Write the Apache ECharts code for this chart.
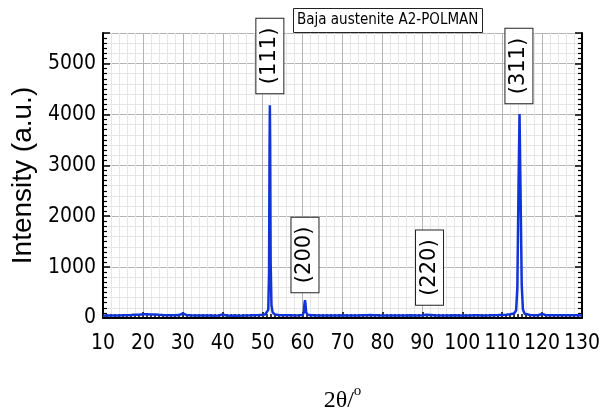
<!DOCTYPE html>
<html>
<head>
<meta charset="utf-8">
<script src="https://cdn.jsdelivr.net/npm/echarts@6/dist/echarts.min.js"></script>
<style>
html, body { margin: 0; padding: 0; background: #fff; }
#chart { width: 608px; height: 412px; }
</style>
</head>
<body>
<div id="chart"></div>
<script>
// XRD pattern, Baja austenite A2-POLMAN
var twoTheta = [10, 11, 12, 13, 14, 15, 16, 17, 18, 19, 20, 21, 22, 23, 24, 25, 26, 27, 28, 29,
	30, 31, 32, 33, 34, 35, 36, 37, 38, 39, 40, 41, 42, 43, 44, 45, 46, 47, 48, 49, 50,
	50.6, 51, 51.4, 51.6, 51.72, 51.8, 51.88, 52.0, 52.2, 52.5, 53, 54, 55, 56, 57, 58, 59, 60,
	60.3, 60.45, 60.6, 60.72, 60.9, 61.3, 62, 63, 64, 65, 66, 67, 68, 69, 70, 71, 72, 73, 74, 75,
	76, 77, 78, 79, 80, 81, 82, 83, 84, 85, 86, 87, 88, 89, 90, 91, 91.5, 92, 93, 94, 95, 96, 97,
	98, 99, 100, 101, 102, 103, 104, 105, 106, 107, 108, 109, 110, 111, 112, 113, 113.5, 113.8,
	114.1, 114.35, 114.6, 114.9, 115.2, 115.6, 116, 117, 118, 119, 120, 121, 122, 123, 124, 125,
	126, 127, 128, 129, 130];
var intensity = [45, 48, 47, 50, 49, 52, 55, 58, 62, 66, 72, 74, 70, 68, 62, 58, 55, 52, 54, 58,
	88, 56, 52, 50, 48, 50, 47, 49, 46, 48, 70, 47, 45, 48, 46, 47, 50, 52, 55, 58, 62,
	70, 85, 160, 900, 3300, 4180, 3400, 1100, 250, 110, 70, 58, 55, 53, 52, 50, 52, 58,
	110, 260, 350, 280, 110, 62, 55, 52, 50, 51, 49, 50, 48, 50, 52, 50, 49, 51, 50, 53,
	55, 58, 55, 52, 50, 48, 50, 49, 51, 48, 50, 52, 49, 51, 53, 62, 78, 60, 52, 50, 51, 49, 50,
	52, 50, 51, 49, 50, 52, 54, 51, 50, 52, 55, 57, 60, 64, 72, 88, 150, 600,
	2600, 4010, 2500, 650, 170, 85, 65, 58, 55, 54, 80, 55, 52, 54, 56, 53,
	52, 55, 53, 52, 50];

// peak labels
var peakNames = ['(111)', '(200)', '(220)', '(311)'];
var peakX = [51.8, 60.6, 91.8, 114.2];
var peakLabelY = [5150, 1240, 990, 4950];

var xTicks = { min: 10, max: 130, interval: 10 };
var yTicks = { min: 0, max: 5600, interval: 1000 };

var narrow = "'Liberation Sans Narrow', 'DejaVu Sans Condensed', sans-serif";

var lineData = twoTheta.map(function (t, i) { return [t, intensity[i]]; });
var labelData = peakNames.map(function (n, i) {
	return { name: n, value: [peakX[i], peakLabelY[i]] };
});

var myChart = echarts.init(document.getElementById('chart'));

function yFmt(v) { return v % 1000 === 0 ? String(v) : ''; }

myChart.setOption({
	animation: false,
	backgroundColor: '#fff',
	title: {
		text: 'Baja austenite A2-POLMAN',
		left: 293,
		top: 8,
		padding: [5, 4],
		borderWidth: 1,
		borderColor: '#222',
		backgroundColor: '#fff',
		textStyle: { fontFamily: narrow, fontSize: 15, fontWeight: 'normal', color: '#000' }
	},
	grid: { left: 103, right: 26, top: 33, bottom: 94, containLabel: false, outerBoundsMode: 'none' },
	xAxis: [{
		type: 'value',
		min: xTicks.min, max: xTicks.max, interval: xTicks.interval,
		name: '{a|2θ/}{b|o}',
		nameLocation: 'middle',
		nameGap: 66,
		nameTextStyle: {
			rich: {
				a: { fontFamily: "'Liberation Serif', serif", fontSize: 24, color: '#000' },
				b: { fontFamily: "'Liberation Serif', serif", fontSize: 15, color: '#000', padding: [0, 0, 18, 0] }
			}
		},
		axisLine: { lineStyle: { color: '#000', width: 2 } },
		axisTick: { inside: true, length: 6, lineStyle: { color: '#000', width: 1.5 } },
		minorTick: { show: true, splitNumber: 10, length: 4, lineStyle: { color: '#000', width: 1.5 } },
		axisLabel: { margin: 15, fontFamily: narrow, fontSize: 21, color: '#000', showMinLabel: true, showMaxLabel: true },
		splitLine: { show: true, lineStyle: { color: '#b4b4b4', width: 1 } }
	}, {
		type: 'value',
		position: 'top',
		min: xTicks.min, max: xTicks.max, interval: xTicks.interval,
		axisLine: { show: false },
		axisTick: { show: false },
		axisLabel: { show: false },
		splitLine: { show: false },
		minorTick: { show: false, splitNumber: 5 },
		minorSplitLine: { show: true, lineStyle: { color: '#e6e6e6', width: 1 } }
	}],
	yAxis: [{
		type: 'value',
		min: yTicks.min, max: yTicks.max, interval: yTicks.interval,
		name: 'Intensity (a.u.)',
		nameLocation: 'middle',
		nameRotate: 90,
		nameGap: 58,
		nameTextStyle: { fontFamily: "'Liberation Sans', sans-serif", fontSize: 28, color: '#000' },
		axisLine: { show: true, lineStyle: { color: '#000', width: 2 } },
		axisTick: { inside: true, length: 7, lineStyle: { color: '#000', width: 1.5 } },
		minorTick: { show: true, splitNumber: 10, length: 4, lineStyle: { color: '#000', width: 1.2 } },
		axisLabel: { margin: 7, fontFamily: narrow, fontSize: 21, color: '#000', formatter: yFmt, showMaxLabel: false },
		splitLine: { show: true, lineStyle: { color: '#b4b4b4', width: 1 } }
	}, {
		type: 'value',
		position: 'right',
		min: yTicks.min, max: yTicks.max, interval: yTicks.interval,
		axisLine: { show: true, lineStyle: { color: '#000', width: 2 } },
		axisTick: { inside: true, length: 7, lineStyle: { color: '#000', width: 1.5 } },
		minorTick: { show: true, splitNumber: 10, length: 4, lineStyle: { color: '#000', width: 1.2 } },
		axisLabel: { show: false },
		splitLine: { show: false }
	}, {
		type: 'value',
		position: 'left',
		min: yTicks.min, max: yTicks.max, interval: yTicks.interval,
		axisLine: { show: false },
		axisTick: { show: false },
		axisLabel: { show: false },
		splitLine: { show: false },
		minorTick: { show: false, splitNumber: 5 },
		minorSplitLine: { show: true, lineStyle: { color: '#e6e6e6', width: 1 } }
	}],
	series: [{
		type: 'line',
		data: lineData,
		symbol: 'none',
		lineStyle: { color: '#1034d8', width: 2.5 },
		z: 5
	}, {
		type: 'scatter',
		data: labelData,
		symbolSize: 0,
		itemStyle: { color: '#000', opacity: 1 },
		silent: true,
		z: 6,
		label: {
			show: true,
			position: 'inside',
			rotate: 90,
			formatter: '{b}',
			fontFamily: "'DejaVu Sans', sans-serif",
			fontSize: 21,
			color: '#000',
			opacity: 1,
			textBorderWidth: 0,
			backgroundColor: '#fff',
			borderColor: '#222',
			borderWidth: 1,
			padding: [3, 9]
		}
	}]
});
</script>
</body>
</html>
